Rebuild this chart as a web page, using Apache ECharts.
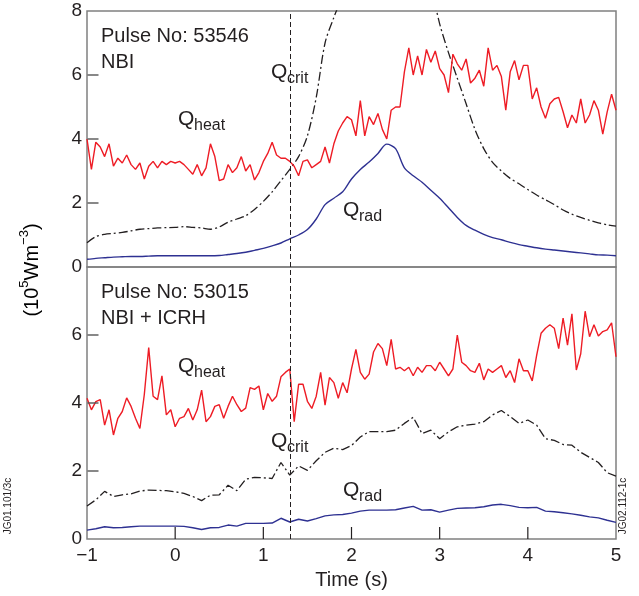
<!DOCTYPE html>
<html>
<head>
<meta charset="utf-8">
<script src="https://cdn.jsdelivr.net/npm/echarts@6/dist/echarts.min.js"></script>
<style>
  html, body { margin: 0; padding: 0; background: #fff; }
  #chart { width: 639px; height: 596px; }
</style>
</head>
<body>
<div id="chart"></div>
<script>
// sampling of the traces (s)
var tStart = -1;
var stepHeat = 0.05;   // noisy Q_heat traces
var stepSmooth = 0.1;  // Q_crit and Q_rad traces
var xTicks = [-1, 0, 1, 2, 3, 4, 5];
var yTicks = [0, 2, 4, 6, 8];
var tDashed = 1.3;

// Pulse No: 53546 (NBI)
var heatTop = [
  4.0, 3.05, 3.9, 3.75, 3.45, 3.85, 3.15, 3.4, 3.25, 3.5,
  3.2, 3.05, 3.25, 2.75, 3.15, 3.3, 3.1, 3.3, 3.2, 3.3,
  3.25, 3.3, 3.2, 3.05, 2.9, 3.2, 2.85, 3.1, 3.85, 3.45,
  2.7, 2.75, 3.2, 2.95, 3.1, 3.45, 3.0, 3.2, 2.72, 2.95,
  3.3, 3.55, 3.9, 3.5, 3.4, 3.4, 3.3, 3.15, 2.85, 3.3,
  3.35, 3.1, 3.2, 3.3, 3.75, 3.25, 3.85, 4.25, 4.5, 4.7,
  4.6, 4.1, 5.2, 4.1, 4.7, 4.45, 4.8, 4.3, 4.0, 4.9,
  5.0, 5.0, 6.1, 6.85, 6.0, 6.6, 6.0, 6.8, 6.4, 6.75,
  6.2, 6.0, 5.45, 6.65, 6.35, 6.15, 6.5, 5.75, 5.9, 6.15,
  5.65, 6.85, 6.15, 6.3, 5.95, 4.9, 6.1, 6.45, 5.85, 6.3,
  6.3, 5.25, 5.6, 5.0, 4.65, 5.1, 5.25, 5.3, 4.85, 4.35,
  4.75, 4.5, 5.25, 4.5, 4.75, 5.2, 4.9, 4.15, 4.85, 5.4,
  4.9
];
var critTop = [
  0.76, 0.95, 1.02, 1.05, 1.08, 1.13, 1.18, 1.2, 1.22, 1.23,
  1.24, 1.26, 1.24, 1.22, 1.18, 1.25, 1.4, 1.5, 1.6, 1.8,
  2.05, 2.35, 2.7, 3.05, 3.45, 4.1, 5.3, 7.0, 7.8, 8.5,
  9.3, 10, 10.5, 10.8, 11, 11, 10.8, 10.4, 9.8, 8.8,
  7.6, 6.7, 5.9, 5.1, 4.3, 3.7, 3.27, 3.0, 2.77, 2.6,
  2.42, 2.25, 2.1, 1.95, 1.78, 1.65, 1.55, 1.46, 1.38, 1.32,
  1.28
];
var radTop = [
  0.24, 0.27, 0.29, 0.31, 0.32, 0.33, 0.33, 0.34, 0.35, 0.35,
  0.35, 0.35, 0.35, 0.35, 0.35, 0.36, 0.39, 0.42, 0.46, 0.52,
  0.58, 0.66, 0.75, 0.88, 1.0, 1.17, 1.5, 1.95, 2.15, 2.35,
  2.75, 3.05, 3.28, 3.55, 3.84, 3.7, 3.1, 2.85, 2.65, 2.4,
  2.15, 1.85, 1.55, 1.3, 1.15, 1.02, 0.92, 0.85, 0.77, 0.7,
  0.65, 0.6, 0.56, 0.53, 0.5, 0.47, 0.44, 0.41, 0.38, 0.37,
  0.35
];

// Pulse No: 53015 (NBI + ICRH)
var heatBottom = [
  4.14, 3.8, 4.04, 4.1, 3.35, 3.8, 3.06, 3.55, 3.75, 4.15,
  3.9, 3.55, 3.25, 4.25, 5.63, 4.2, 4.1, 4.8, 3.65, 3.8,
  3.3, 3.55, 3.6, 3.84, 3.5, 3.8, 4.38, 3.45, 3.6, 3.9,
  3.95, 3.55, 3.9, 4.2, 3.95, 3.75, 3.85, 4.45, 4.4, 4.5,
  3.8, 4.28, 4.05, 4.2, 4.77, 4.9, 5.0, 3.45, 4.55, 4.55,
  4.05, 3.84, 4.2, 4.9, 3.94, 4.75, 4.6, 4.14, 4.6, 4.3,
  5.0, 5.58, 4.9, 4.7, 4.85, 5.5, 5.75, 5.6, 5.1, 5.87,
  5.0, 5.05, 4.95, 5.05, 4.8, 5.05, 4.9, 5.1, 5.1, 4.95,
  5.2, 5.0, 4.8, 5.0, 6.0, 5.2, 5.1, 4.95, 4.9, 5.17,
  4.68, 5.0, 4.9, 5.0, 5.1, 4.75, 4.95, 4.6, 5.3, 4.95,
  4.95, 4.65, 5.4, 6.05, 6.2, 6.3, 6.2, 5.6, 6.5, 5.7,
  6.62, 4.97, 5.45, 6.7, 5.95, 6.3, 5.97, 6.1, 6.15, 6.36,
  5.36
];
var critBottom = [
  0.97, 1.15, 1.4, 1.25, 1.3, 1.33, 1.41, 1.44, 1.43, 1.42,
  1.39, 1.34, 1.25, 1.13, 1.29, 1.3, 1.58, 1.42, 1.76, 1.81,
  1.8, 1.78, 2.25, 1.88, 2.15, 2.02, 2.3, 2.55, 2.67, 2.63,
  2.75, 3.0, 3.16, 3.16, 3.16, 3.2, 3.4, 3.58, 3.1, 3.2,
  2.95, 3.15, 3.3, 3.35, 3.38, 3.45, 3.65, 3.78, 3.6, 3.4,
  3.5, 3.35, 2.95, 2.9, 2.78, 2.76, 2.55, 2.4, 2.25, 1.95,
  1.85
];
var radBottom = [
  0.26, 0.3, 0.36, 0.33, 0.34, 0.36, 0.38, 0.38, 0.38, 0.38,
  0.38, 0.37, 0.33, 0.28, 0.33, 0.34, 0.41, 0.38, 0.46, 0.46,
  0.46, 0.47, 0.61, 0.5, 0.58, 0.53, 0.6, 0.68, 0.71, 0.72,
  0.76, 0.82, 0.85, 0.85, 0.85, 0.86, 0.91, 0.96, 0.85, 0.86,
  0.79, 0.85, 0.9, 0.91, 0.92, 0.95, 1.0, 1.02, 0.98, 0.93,
  0.92, 0.93, 0.82, 0.8, 0.77, 0.74, 0.7, 0.65, 0.62, 0.55,
  0.49
];

var FONT = 'Liberation Sans, Arial, Helvetica, sans-serif';
var RED = '#ee1c25';
var BLUE = '#2e3192';
var FRAME = '#808080';
var TICK = '#555555';
var INK = '#231f20';

function pairs(values, step) {
  return values.map(function (v, i) {
    return [+(tStart + i * step).toFixed(2), v];
  });
}

function minusSign(v) {
  return String(v).replace('-', '\u2212');
}

function xAxisFor(gridIndex, showLabels) {
  return {
    type: 'value', gridIndex: gridIndex, position: 'bottom',
    min: xTicks[0], max: xTicks[xTicks.length - 1], interval: 1,
    axisLine: { show: false, onZero: false },
    axisTick: { show: false },
    axisLabel: { show: showLabels, margin: 7, color: INK, fontSize: 19, fontFamily: FONT, formatter: minusSign },
    splitLine: { show: false },
    name: showLabels ? 'Time (s)' : '',
    nameLocation: 'middle', nameGap: 31,
    nameTextStyle: { color: INK, fontSize: 20, fontFamily: FONT }
  };
}

function yAxisFor(gridIndex, hideTop) {
  return {
    type: 'value', gridIndex: gridIndex, position: 'left',
    min: yTicks[0], max: yTicks[yTicks.length - 1], interval: 2,
    axisLine: { show: false, onZero: false },
    axisTick: { show: false },
    axisLabel: {
      margin: 5, color: INK, fontSize: 19, fontFamily: FONT,
      formatter: function (v) { return (hideTop && v === 8) ? '' : String(v); }
    },
    splitLine: { show: false }
  };
}

function line(name, data, axis, style) {
  return {
    name: name, type: 'line', data: data,
    xAxisIndex: axis, yAxisIndex: axis,
    showSymbol: false, symbol: 'none', smooth: style.smooth || false,
    lineStyle: { color: style.color, width: style.width || 1.4, type: style.type || 'solid' },
    z: style.z || 2,
    silent: true
  };
}

function dashedMark(series) {
  series.markLine = {
    silent: true, symbol: 'none', animation: false,
    label: { show: false },
    lineStyle: { color: INK, type: [5, 3], width: 1 },
    data: [{ xAxis: tDashed }]
  };
  return series;
}

// inward tick marks, placed through the axes' own scales
function yTickSeries(axis) {
  return {
    type: 'custom', xAxisIndex: axis, yAxisIndex: axis, silent: true, z: 10, clip: false,
    data: yTicks.slice(1, -1).map(function (v) { return [xTicks[0], v]; }),
    renderItem: function (params, api) {
      var p = api.coord([api.value(0), api.value(1)]);
      return { type: 'rect', z2: 10, shape: { x: p[0] + 0.5, y: p[1] - 0.7, width: 11, height: 1.4 },
        style: { fill: TICK } };
    }
  };
}

function xTickSeries(axis) {
  return {
    type: 'custom', xAxisIndex: axis, yAxisIndex: axis, silent: true, z: 10, clip: false,
    data: xTicks.slice(1, -1).map(function (t) { return [t, yTicks[0]]; }),
    renderItem: function (params, api) {
      var p = api.coord([api.value(0), api.value(1)]);
      return { type: 'line', z2: 10, shape: { x1: p[0], y1: p[1], x2: p[0], y2: p[1] - 12 },
        style: { stroke: INK, lineWidth: 1.2 } };
    }
  };
}

function qLabel(x, y, sub) {
  return {
    type: 'group', x: x, y: y,
    children: [
      { type: 'text', x: 0, y: 0, style: { text: 'Q', font: '21px ' + FONT, fill: INK, textVerticalAlign: 'middle' } },
      { type: 'text', x: 16, y: 7, style: { text: sub, font: '16px ' + FONT, fill: INK, textVerticalAlign: 'middle' } }
    ]
  };
}

function plainText(x, y, text, size, rotation) {
  return {
    type: 'text', x: x, y: y, rotation: rotation || 0,
    style: { text: text, font: size + 'px ' + FONT, fill: INK, textAlign: rotation ? 'center' : 'left', textVerticalAlign: 'middle' }
  };
}

var chart = echarts.init(document.getElementById('chart'), null, { renderer: 'canvas' });

var option = {
  animation: false,
  backgroundColor: '#fff',
  grid: [
    { left: 87, top: 11, width: 529, height: 256, show: true, borderColor: FRAME, borderWidth: 1.5 },
    { left: 87, top: 267, width: 529, height: 272, show: true, borderColor: FRAME, borderWidth: 1.5 }
  ],
  xAxis: [xAxisFor(0, false), xAxisFor(1, true)],
  yAxis: [yAxisFor(0, false), yAxisFor(1, true)],
  series: [
    dashedMark(line('Qcrit 53546', pairs(critTop, stepSmooth), 0, { color: INK, width: 1.3, type: [9, 3, 2, 3], smooth: 0.3 })),
    line('Qrad 53546', pairs(radTop, stepSmooth), 0, { color: BLUE, width: 1.4, smooth: 0.3 }),
    line('Qheat 53546', pairs(heatTop, stepHeat), 0, { color: RED, width: 1.4, z: 3 }),
    dashedMark(line('Qcrit 53015', pairs(critBottom, stepSmooth), 1, { color: INK, width: 1.3, type: [9, 3, 2, 3] })),
    line('Qrad 53015', pairs(radBottom, stepSmooth), 1, { color: BLUE, width: 1.4 }),
    line('Qheat 53015', pairs(heatBottom, stepHeat), 1, { color: RED, width: 1.4, z: 3 }),
    yTickSeries(0),
    yTickSeries(1),
    xTickSeries(1)
  ],
  graphic: [
    plainText(101, 36, 'Pulse No: 53546', 20),
    plainText(101, 62, 'NBI', 20),
    plainText(101, 292, 'Pulse No: 53015', 20),
    plainText(101, 318, 'NBI + ICRH', 20),
    qLabel(178, 119, 'heat'),
    qLabel(271, 72, 'crit'),
    qLabel(343, 210, 'rad'),
    qLabel(178, 366, 'heat'),
    qLabel(271, 441, 'crit'),
    qLabel(343, 490, 'rad'),
    {
      type: 'text', x: 30, y: 270, rotation: Math.PI / 2,
      style: {
        text: '{m|(10}{s|5}{m|Wm}{s|\u22123}{m|)}',
        textAlign: 'center', textVerticalAlign: 'middle',
        rich: {
          m: { fontSize: 20, fontFamily: FONT, color: INK, lineHeight: 24, verticalAlign: 'bottom' },
          s: { fontSize: 13, fontFamily: FONT, color: INK, lineHeight: 13, verticalAlign: 'top' }
        }
      }
    },
    plainText(8, 506, 'JG01.101/3c', 10, Math.PI / 2),
    plainText(623, 506, 'JG02.112-1c', 10, Math.PI / 2)
  ]
};

chart.setOption(option);
</script>
</body>
</html>
